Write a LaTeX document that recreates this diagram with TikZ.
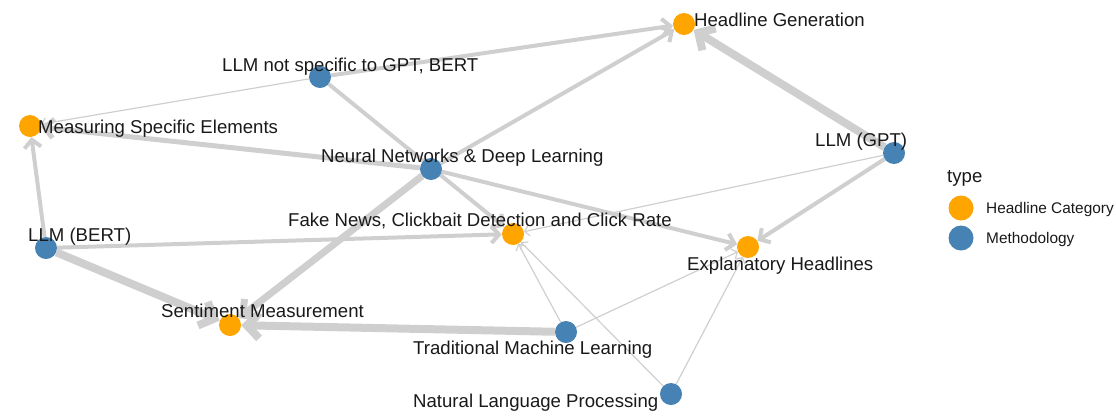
\documentclass[tikz,border=0pt]{standalone}
\usepackage{fontspec}
\setmainfont{Liberation Sans}
\usetikzlibrary{arrows.meta}
\definecolor{catorange}{HTML}{FFA500}
\definecolor{methblue}{HTML}{4682B4}
\definecolor{linkgray}{HTML}{CFCFCF}
\pgfdeclarelayer{edges}
\pgfsetlayers{edges,main}

\begin{document}
\begin{tikzpicture}[x=1pt, y=-1pt,
  cat/.style={circle, fill=catorange, minimum size=22pt, inner sep=0pt},
  meth/.style={circle, fill=methblue, minimum size=22pt, inner sep=0pt},
  lbl/.style={anchor=base west, inner sep=0pt, text=black!90, font=\fontsize{18.6}{20}\selectfont},
  link/.style={draw=linkgray, line width=#1, -{Straight Barb[length=3pt 1.2, width=8pt 2.2]}},
  link/.default=4pt]
\useasboundingbox (0,0) rectangle (1116,416);

% headline categories
\node[cat] (headgen) at (684,24) {};
\node[cat] (measure) at (30,126) {};
\node[cat] (fake) at (513,234) {};
\node[cat] (explain) at (748,247) {};
\node[cat] (sentiment) at (230,325) {};

% methodologies
\node[meth] (llmother) at (320,77) {};
\node[meth] (neural) at (431,169) {};
\node[meth] (gpt) at (894,153) {};
\node[meth] (bert) at (46,248) {};
\node[meth] (tradml) at (566,332) {};
\node[meth] (nlp) at (671,394) {};

% links
\begin{pgfonlayer}{edges}
\draw[link] (llmother) -- (headgen);
\draw[link=1.2pt] (llmother) -- (measure);
\draw[link] (llmother) -- (fake);
\draw[link=5pt] (neural) -- (measure);
\draw[link] (neural) -- (headgen);
\draw[link] (neural) -- (explain);
\draw[link=7pt] (neural) -- (sentiment);
\draw[link=8pt] (gpt) -- (headgen);
\draw[link] (gpt) -- (explain);
\draw[link=1.2pt] (gpt) -- (fake);
\draw[link] (bert) -- (measure);
\draw[link] (bert) -- (fake);
\draw[link=8pt] (bert) -- (sentiment);
\draw[link=8pt] (tradml) -- (sentiment);
\draw[link=1.2pt] (tradml) -- (fake);
\draw[link=1.2pt] (tradml) -- (explain);
\draw[link=1.2pt] (nlp) -- (fake);
\draw[link=1.2pt] (nlp) -- (explain);
\end{pgfonlayer}

% labels
\node[lbl] (headgen-t) at (694,26) {Headline Generation};
\node[lbl] (llmother-t) at (222,71) {LLM not specific to GPT, BERT};
\node[lbl] (measure-t) at (38,133) {Measuring Specific Elements};
\node[lbl] (neural-t) at (321,162) {Neural Networks \& Deep Learning};
\node[lbl] (gpt-t) at (815,146) {LLM (GPT)};
\node[lbl] (fake-t) at (288,226) {Fake News, Clickbait Detection and Click Rate};
\node[lbl] (bert-t) at (28,241) {LLM (BERT)};
\node[lbl] (explain-t) at (687,270) {Explanatory Headlines};
\node[lbl] (sentiment-t) at (161,317) {Sentiment Measurement};
\node[lbl] (tradml-t) at (413,354) {Traditional Machine Learning};
\node[lbl] (nlp-t) at (413,407) {Natural Language Processing};

% legend
\node[lbl] (type-t) at (947,182) {type};
\node[cat, minimum size=25pt] (key-cat) at (961,208) {};
\node[meth, minimum size=25pt] (key-meth) at (961,238) {};
\node[lbl, font=\fontsize{15.4}{17}\selectfont] (key-cat-t) at (986,213) {Headline Category};
\node[lbl, font=\fontsize{15.4}{17}\selectfont] (key-meth-t) at (986,243) {Methodology};
\end{tikzpicture}
\end{document}
